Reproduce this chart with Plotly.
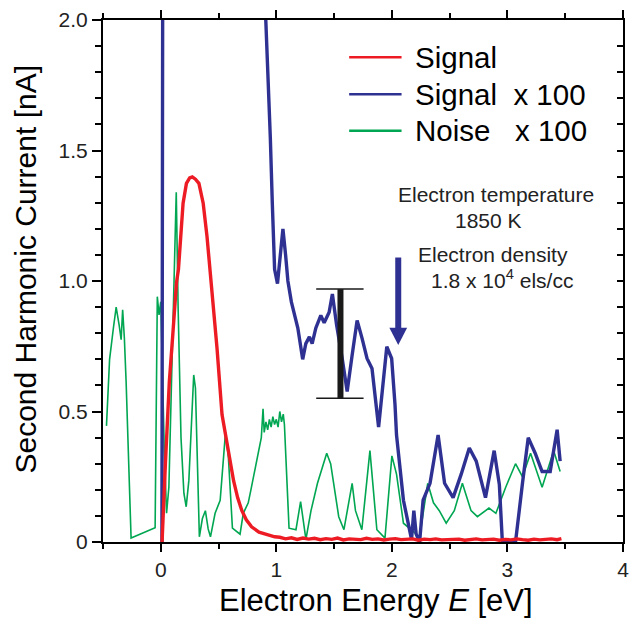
import plotly.graph_objects as go

# ---------------- data ----------------
signal_E = [0.0, 0.011, 0.04, 0.074, 0.105, 0.125, 0.136, 0.153, 0.174, 0.193,
            0.222, 0.25, 0.273, 0.30, 0.330, 0.367, 0.40, 0.425, 0.45, 0.487,
            0.530, 0.559, 0.60, 0.630, 0.665, 0.701, 0.74, 0.786, 0.85, 0.92, 0.986,
            1.03, 1.08, 1.13, 1.18, 1.23, 1.28, 1.33, 1.38, 1.43, 1.48,
            1.53, 1.58, 1.63, 1.68, 1.73, 1.78, 1.83, 1.88, 1.93, 1.98,
            2.03, 2.08, 2.13, 2.18, 2.23, 2.28, 2.33, 2.38, 2.43, 2.48,
            2.53, 2.58, 2.63, 2.68, 2.73, 2.78, 2.83, 2.88, 2.93, 2.98,
            3.03, 3.08, 3.13, 3.18, 3.23, 3.28, 3.33, 3.38, 3.43, 3.467]
signal_I = [0.0, 0.0, 0.30, 0.615, 0.80, 0.918, 0.994, 1.045, 1.171, 1.298,
            1.374, 1.395, 1.399, 1.39, 1.374, 1.298, 1.171, 1.05, 0.92, 0.741,
            0.488, 0.413, 0.31, 0.235, 0.17, 0.121, 0.085, 0.058, 0.038, 0.027, 0.020,
            0.018, 0.012, 0.016, 0.010, 0.015, 0.011, 0.014, 0.009, 0.013, 0.010,
            0.015, 0.008, 0.012, 0.011, 0.009, 0.014, 0.010, 0.012, 0.008, 0.011,
            0.013, 0.009, 0.010, 0.012, 0.007, 0.011, 0.009, 0.012, 0.008, 0.010,
            0.009, 0.011, 0.007, 0.010, 0.012, 0.008, 0.009, 0.011, 0.007, 0.010,
            0.008, 0.012, 0.009, 0.007, 0.011, 0.008, 0.010, 0.012, 0.009, 0.013]

signal100_E = [0.01, 0.018, 0.2, 0.5, 0.8, 0.90, 0.91, 0.935, 0.948, 0.965,
               0.985, 1.01, 1.035, 1.057, 1.08, 1.10, 1.13, 1.16, 1.186, 1.228,
               1.255, 1.286, 1.31, 1.342, 1.385, 1.414, 1.457, 1.485, 1.522, 1.571,
               1.613, 1.656, 1.699, 1.742, 1.785, 1.828, 1.885, 1.956, 1.998, 2.027,
               2.04, 2.10, 2.17, 2.19, 2.21, 2.24, 2.27, 2.33, 2.40, 2.456,
               2.53, 2.60, 2.67, 2.73, 2.81, 2.885, 2.93, 2.956, 3.07, 3.13,
               3.18, 3.24, 3.30, 3.37, 3.43, 3.456]
signal100_I = [0.0, 2.6, 2.6, 2.6, 2.6, 2.1, 2.0, 1.68, 1.55, 1.30,
               1.045, 0.99, 1.12, 1.20, 1.10, 1.00, 0.92, 0.86, 0.82, 0.70,
               0.76, 0.786, 0.76, 0.82, 0.868, 0.84, 0.88, 0.95, 0.83, 0.70,
               0.577, 0.716, 0.849, 0.78, 0.703, 0.665, 0.44, 0.748, 0.703, 0.526,
               0.41, 0.16, 0.01, 0.12, 0.03, 0.0, 0.16, 0.225, 0.41, 0.225,
               0.17, 0.26, 0.36, 0.31, 0.17, 0.35, 0.22, 0.0, 0.0, 0.225,
               0.40, 0.34, 0.27, 0.27, 0.43, 0.31]

noise100_E = [-0.47, -0.443, -0.41, -0.386, -0.36, -0.343, -0.33, -0.315, -0.30, -0.257,
              -0.049, -0.03, -0.015, 0.0, 0.03, 0.05, 0.07, 0.10, 0.134, 0.15,
              0.175, 0.2, 0.22, 0.243, 0.285, 0.30, 0.334, 0.36, 0.386, 0.41,
              0.43, 0.47, 0.514, 0.56, 0.585, 0.62, 0.686, 0.714, 0.757, 0.78,
              0.81, 0.87, 0.885, 0.895, 0.91, 0.925, 0.94, 0.955, 0.97, 0.985,
              1.0, 1.015, 1.03, 1.045, 1.06, 1.07,
              1.11, 1.17, 1.21, 1.256, 1.30, 1.356, 1.436, 1.47, 1.54, 1.585,
              1.656, 1.685, 1.74, 1.81, 1.87, 1.94, 2.0, 2.04, 2.10, 2.17,
              2.24, 2.31, 2.36, 2.41, 2.47, 2.54, 2.61, 2.685, 2.74, 2.84,
              2.90, 2.985, 3.07, 3.13, 3.20, 3.30, 3.40, 3.456]
noise100_I = [0.445, 0.70, 0.82, 0.90, 0.83, 0.775, 0.89, 0.78, 0.615, 0.015,
              0.055, 0.94, 0.87, 0.92, 0.36, 0.11, 0.21, 0.75, 1.34, 0.90,
              0.40, 0.187, 0.135, 0.236, 0.64, 0.59, 0.02, 0.09, 0.12, 0.05,
              0.02, 0.11, 0.16, 0.42, 0.325, 0.053, 0.03, 0.11, 0.15, 0.20,
              0.27, 0.40, 0.51, 0.42, 0.46, 0.43, 0.47, 0.44, 0.48, 0.45,
              0.47, 0.44, 0.50, 0.46, 0.49, 0.45,
              0.053, 0.047, 0.155, 0.01, 0.12, 0.225, 0.34, 0.30, 0.097, 0.047,
              0.225, 0.12, 0.047, 0.35, 0.047, 0.015, 0.33, 0.26, 0.072, 0.047,
              0.02, 0.225, 0.15, 0.12, 0.072, 0.12, 0.225, 0.12, 0.097, 0.13,
              0.11, 0.21, 0.30, 0.25, 0.34, 0.21, 0.35, 0.27]

series_names = ["Signal", "Signal\u00a0\u00a0x 100", "Noise\u00a0\u00a0\u00a0x 100"]
series_colors = ["#ed1c24", "#2e3192", "#00a651"]
series_widths = [3.4, 3.4, 1.6]

x_tick_vals = [0, 1, 2, 3, 4]
x_tick_text = ["0", "1", "2", "3", "4"]
y_tick_vals = [0, 0.5, 1.0, 1.5, 2.0]
y_tick_text = ["0", "0.5", "1.0", "1.5", "2.0"]

# annotation marks (data coordinates)
errbar_E, errbar_lo, errbar_hi = 1.555, 0.551, 0.969
errbar_cap_lo_E, errbar_cap_hi_E = 1.345, 1.755
arrow_E, arrow_top, arrow_tip = 2.055, 1.09, 0.755
arrow_head_half, arrow_head_h = 0.077, 0.066

# ---------------- figure ----------------
W, H = 637, 621
L, R, T, B = 103, 8, 15, 79
PW, PH = W - L - R, H - T - B


def pxp(x):
    return (x - L) / PW


def pyp(y):
    return (H - B - y) / PH


FONT = "Liberation Sans, Arial, sans-serif"

fig = go.Figure()
for E, I, name, c, w in zip([noise100_E, signal100_E, signal_E],
                            [noise100_I, signal100_I, signal_I],
                            series_names[::-1], series_colors[::-1], series_widths[::-1]):
    fig.add_trace(go.Scatter(x=E, y=I, mode="lines", name=name,
                             line=dict(color=c, width=w), showlegend=False))

# dummy trace for the right-hand tick axis
fig.add_trace(go.Scatter(x=[None], y=[None], yaxis="y2", showlegend=False,
                         hoverinfo="skip"))

fig.update_layout(
    width=W, height=H,
    margin=dict(l=L, r=R, t=T, b=B, pad=0),
    paper_bgcolor="white", plot_bgcolor="white",
    font=dict(family=FONT, size=21, color="#222"),
    xaxis=dict(range=[-0.5, 4.0], tickvals=x_tick_vals, ticktext=x_tick_text,
               ticks="outside", ticklen=8, tickwidth=1.5, tickcolor="black",
               minor=dict(dtick=0.5, tick0=0, ticks="outside", ticklen=5,
                          tickwidth=1.5, tickcolor="black"),
               showline=True, linecolor="black", linewidth=2, mirror="ticks",
               showgrid=False, zeroline=False,
               tickfont=dict(size=21, color="#222")),
    yaxis=dict(range=[0, 2.0], tickvals=y_tick_vals, ticktext=y_tick_text,
               ticks="outside", ticklen=9, tickwidth=1.5, tickcolor="black",
               minor=dict(dtick=0.1, tick0=0, ticks="outside", ticklen=6,
                          tickwidth=1.5, tickcolor="black"),
               showline=True, linecolor="black", linewidth=2,
               showgrid=False, zeroline=False,
               tickfont=dict(size=21, color="#222")),
    yaxis2=dict(range=[0, 2.0], overlaying="y", side="right",
                showticklabels=False, ticks="inside", dtick=0.1, tick0=0,
                ticklen=6, tickwidth=1.5, tickcolor="black",
                showline=True, linecolor="black", linewidth=2,
                showgrid=False, zeroline=False),
)

shapes = []
# error bar
shapes.append(dict(type="line", xref="x", yref="y", x0=errbar_E, x1=errbar_E,
                   y0=errbar_lo, y1=errbar_hi, line=dict(color="#1a1a1a", width=6)))
for yv in (errbar_lo, errbar_hi):
    shapes.append(dict(type="line", xref="x", yref="y", x0=errbar_cap_lo_E,
                       x1=errbar_cap_hi_E, y0=yv, y1=yv,
                       line=dict(color="#1a1a1a", width=1.5)))
# arrow
shapes.append(dict(type="line", xref="x", yref="y", x0=arrow_E, x1=arrow_E,
                   y0=arrow_top, y1=arrow_tip + arrow_head_h * 0.8,
                   line=dict(color="#2e3192", width=6)))
shapes.append(dict(type="path", xref="x", yref="y",
                   path=f"M{arrow_E - arrow_head_half},{arrow_tip + arrow_head_h} "
                        f"L{arrow_E + arrow_head_half},{arrow_tip + arrow_head_h} "
                        f"L{arrow_E},{arrow_tip} Z",
                   fillcolor="#2e3192", line=dict(color="#2e3192", width=0)))

# custom legend
legend_y = [52.7, 90, 126.7]
for name, c, yv in zip(series_names, series_colors, legend_y):
    shapes.append(dict(type="line", xref="paper", yref="paper",
                       x0=pxp(352), x1=pxp(405), y0=pyp(yv), y1=pyp(yv),
                       line=dict(color=c, width=2.5)))

annotations = []
for name, yv in zip(series_names, legend_y):
    annotations.append(dict(xref="paper", yref="paper", x=pxp(417), y=pyp(yv),
                            xanchor="left", yanchor="middle", showarrow=False,
                            text=name, font=dict(size=29.5, color="black", family=FONT)))

# text annotations
ann_font = dict(size=21, color="#222", family=FONT)
annotations += [
    dict(xref="paper", yref="paper", x=pxp(501), y=pyp(191), text="Electron temperature",
         showarrow=False, xanchor="center", yanchor="middle", font=ann_font),
    dict(xref="paper", yref="paper", x=pxp(493), y=pyp(217), text="1850 K",
         showarrow=False, xanchor="center", yanchor="middle", font=ann_font),
    dict(xref="paper", yref="paper", x=pxp(497), y=pyp(252), text="Electron density",
         showarrow=False, xanchor="center", yanchor="middle", font=ann_font),
    dict(xref="paper", yref="paper", x=pxp(507), y=pyp(276),
         text="1.8 x 10<sup>4</sup> els/cc",
         showarrow=False, xanchor="center", yanchor="middle", font=ann_font),
    # axis titles
    dict(xref="paper", yref="paper", x=pxp(379), y=pyp(601),
         text="Electron Energy <i>E</i> [eV]", showarrow=False,
         xanchor="center", yanchor="middle",
         font=dict(size=31, color="black", family=FONT)),
    dict(xref="paper", yref="paper", x=pxp(25), y=pyp(266),
         text="Second Harmonic Current [nA]", showarrow=False, textangle=-90,
         xanchor="center", yanchor="middle",
         font=dict(size=30, color="black", family=FONT)),
]

fig.update_layout(shapes=shapes, annotations=annotations)
fig.write_html("out.html", config={"displayModeBar": False},
               post_script="document.body.style.margin='0';")
